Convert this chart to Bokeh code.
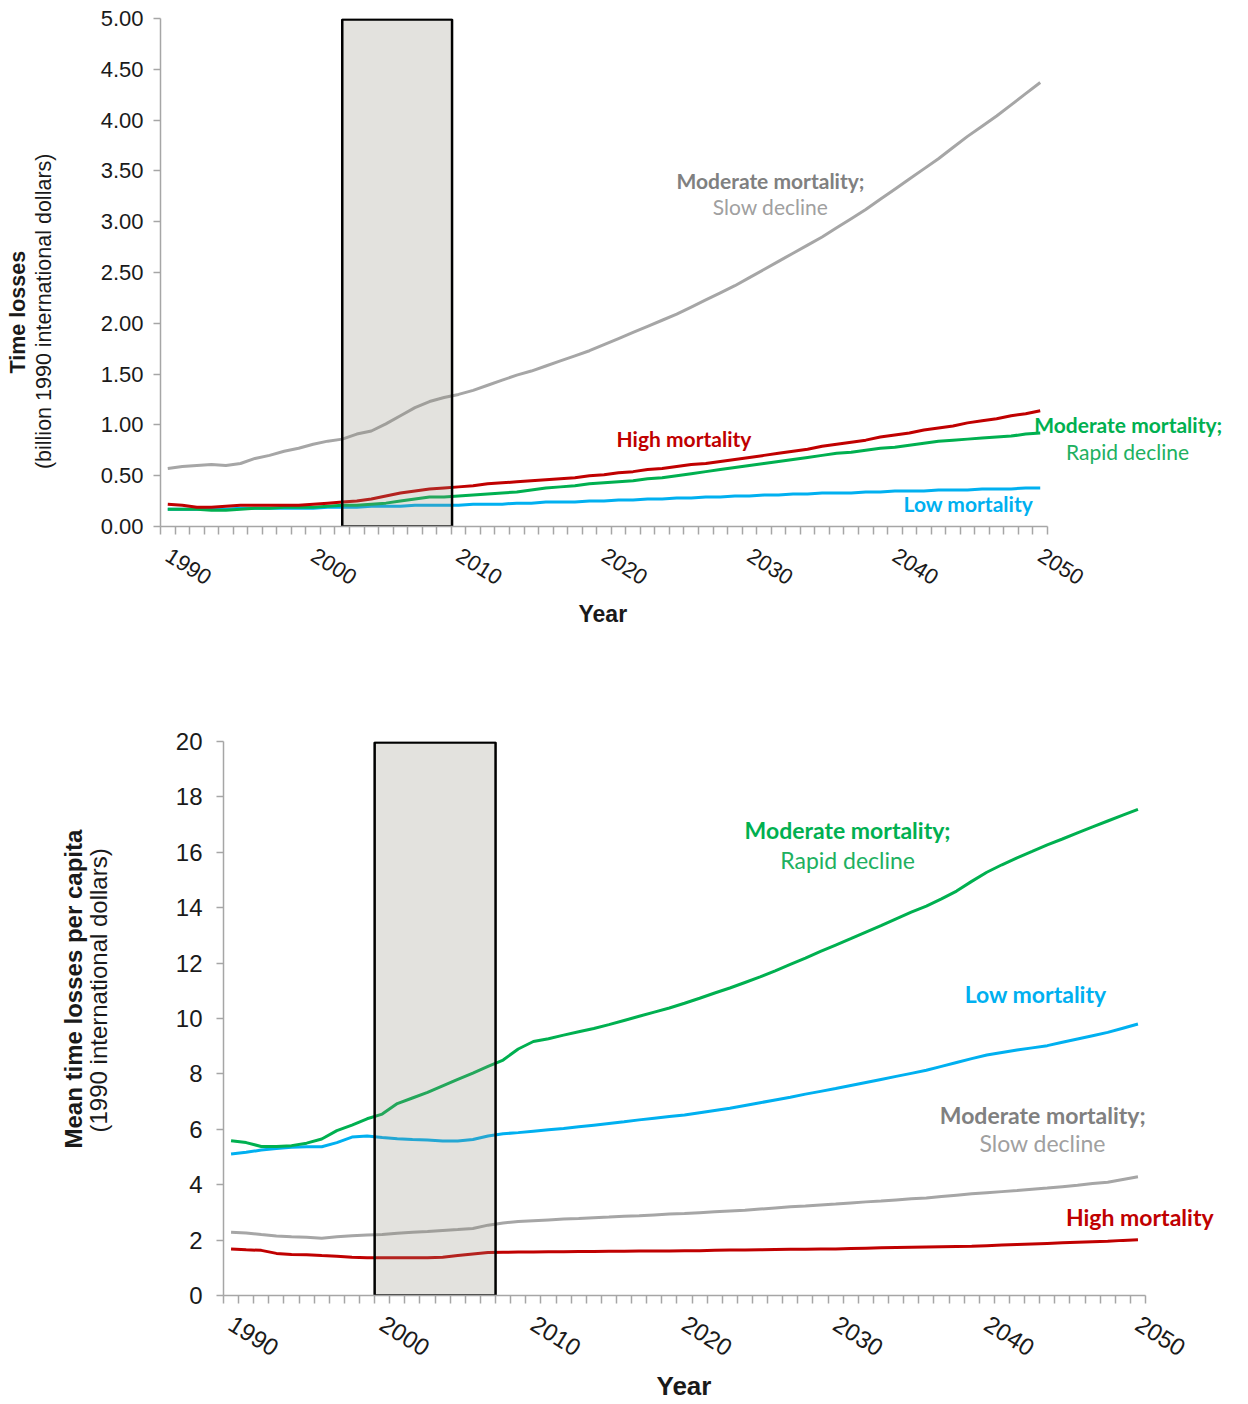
from bokeh.plotting import figure
from bokeh.models import Range1d, FixedTicker, Label, NumeralTickFormatter, Title
from bokeh.embed import file_html
from bokeh.resources import INLINE

years = list(range(1990, 2051))

# ---- Top panel: total time losses (billion 1990 international dollars)
top_slow = [0.57, 0.59, 0.60, 0.61, 0.60, 0.62, 0.67, 0.70, 0.74, 0.77,
            0.81, 0.84, 0.86, 0.91, 0.94, 1.01, 1.09, 1.17, 1.23, 1.27,
            1.30, 1.34, 1.39, 1.44, 1.49, 1.53, 1.58, 1.63, 1.68, 1.73,
            1.79, 1.85, 1.91, 1.97, 2.03, 2.09, 2.16, 2.23, 2.30, 2.37,
            2.45, 2.53, 2.61, 2.69, 2.77, 2.85, 2.94, 3.03, 3.12, 3.22,
            3.32, 3.42, 3.52, 3.62, 3.73, 3.84, 3.94, 4.04, 4.15, 4.26, 4.37]
top_high = [0.22, 0.21, 0.19, 0.19, 0.20, 0.21, 0.21, 0.21, 0.21, 0.21,
            0.22, 0.23, 0.24, 0.25, 0.27, 0.30, 0.33, 0.35, 0.37, 0.38,
            0.39, 0.40, 0.42, 0.43, 0.44, 0.45, 0.46, 0.47, 0.48, 0.50,
            0.51, 0.53, 0.54, 0.56, 0.57, 0.59, 0.61, 0.62, 0.64, 0.66,
            0.68, 0.70, 0.72, 0.74, 0.76, 0.79, 0.81, 0.83, 0.85, 0.88,
            0.90, 0.92, 0.95, 0.97, 0.99, 1.02, 1.04, 1.06, 1.09, 1.11, 1.14]
top_rapid = [0.17, 0.17, 0.17, 0.16, 0.16, 0.17, 0.18, 0.18, 0.19, 0.19,
             0.19, 0.20, 0.21, 0.21, 0.22, 0.23, 0.25, 0.27, 0.29, 0.29,
             0.30, 0.31, 0.32, 0.33, 0.34, 0.36, 0.38, 0.39, 0.40, 0.42,
             0.43, 0.44, 0.45, 0.47, 0.48, 0.50, 0.52, 0.54, 0.56, 0.58,
             0.60, 0.62, 0.64, 0.66, 0.68, 0.70, 0.72, 0.73, 0.75, 0.77,
             0.78, 0.80, 0.82, 0.84, 0.85, 0.86, 0.87, 0.88, 0.89, 0.91, 0.92]
top_low = [0.17, 0.17, 0.17, 0.17, 0.17, 0.18, 0.18, 0.18, 0.18, 0.18,
           0.18, 0.19, 0.19, 0.19, 0.20, 0.20, 0.20, 0.21, 0.21, 0.21,
           0.21, 0.22, 0.22, 0.22, 0.23, 0.23, 0.24, 0.24, 0.24, 0.25,
           0.25, 0.26, 0.26, 0.27, 0.27, 0.28, 0.28, 0.29, 0.29, 0.30,
           0.30, 0.31, 0.31, 0.32, 0.32, 0.33, 0.33, 0.33, 0.34, 0.34,
           0.35, 0.35, 0.35, 0.36, 0.36, 0.36, 0.37, 0.37, 0.37, 0.38, 0.38]
top_shade = [2002.0, 2009.55]
top_yticks = [0, 0.5, 1.0, 1.5, 2.0, 2.5, 3.0, 3.5, 4.0, 4.5, 5.0]

# ---- Bottom panel: mean time losses per capita (1990 international dollars)
bot_rapid = [5.59, 5.52, 5.38, 5.38, 5.41, 5.50, 5.65, 5.95, 6.15, 6.38,
             6.55, 6.93, 7.13, 7.33, 7.57, 7.80, 8.03, 8.27, 8.50, 8.90,
             9.17, 9.27, 9.40, 9.52, 9.64, 9.78, 9.93, 10.08, 10.23, 10.38,
             10.55, 10.73, 10.92, 11.10, 11.30, 11.50, 11.72, 11.95, 12.18, 12.42,
             12.65, 12.88, 13.12, 13.35, 13.60, 13.84, 14.06, 14.32, 14.60, 14.95,
             15.28, 15.55, 15.80, 16.03, 16.27, 16.48, 16.70, 16.92, 17.13, 17.34, 17.55]
bot_low = [5.11, 5.17, 5.25, 5.31, 5.35, 5.37, 5.37, 5.52, 5.72, 5.76,
           5.70, 5.66, 5.63, 5.61, 5.58, 5.58, 5.63, 5.76, 5.84, 5.88,
           5.93, 5.98, 6.03, 6.09, 6.15, 6.21, 6.27, 6.34, 6.40, 6.46,
           6.52, 6.60, 6.68, 6.76, 6.86, 6.96, 7.06, 7.16, 7.27, 7.37,
           7.47, 7.58, 7.69, 7.80, 7.91, 8.02, 8.13, 8.27, 8.41, 8.55,
           8.68, 8.77, 8.86, 8.94, 9.02, 9.14, 9.26, 9.38, 9.50, 9.65, 9.80]
bot_slow = [2.28, 2.26, 2.20, 2.15, 2.12, 2.10, 2.07, 2.12, 2.16, 2.18,
            2.20, 2.25, 2.28, 2.31, 2.35, 2.38, 2.42, 2.54, 2.62, 2.67,
            2.70, 2.73, 2.76, 2.78, 2.81, 2.83, 2.86, 2.88, 2.91, 2.94,
            2.96, 2.99, 3.02, 3.05, 3.08, 3.12, 3.16, 3.20, 3.23, 3.27,
            3.30, 3.34, 3.38, 3.41, 3.45, 3.49, 3.52, 3.57, 3.62, 3.67,
            3.71, 3.75, 3.79, 3.84, 3.88, 3.93, 3.98, 4.04, 4.09, 4.19, 4.29]
bot_high = [1.68, 1.65, 1.63, 1.52, 1.48, 1.47, 1.44, 1.42, 1.38, 1.36,
            1.36, 1.36, 1.36, 1.36, 1.38, 1.44, 1.50, 1.55, 1.56, 1.57,
            1.57, 1.58, 1.58, 1.59, 1.59, 1.60, 1.60, 1.61, 1.61, 1.61,
            1.62, 1.62, 1.63, 1.64, 1.64, 1.65, 1.66, 1.67, 1.67, 1.68,
            1.68, 1.70, 1.71, 1.72, 1.73, 1.74, 1.75, 1.76, 1.77, 1.78,
            1.80, 1.82, 1.84, 1.86, 1.88, 1.90, 1.92, 1.94, 1.96, 1.99, 2.01]
bot_shade = [1999.5, 2007.5]
bot_yticks = [0, 2, 4, 6, 8, 10, 12, 14, 16, 18, 20]

x_labels = [1990, 2000, 2010, 2020, 2030, 2040, 2050]

GRAY, RED, GREEN, BLUE = "#a6a6a6", "#c00000", "#00b050", "#00b0f0"
AXIS = "#a6a6a6"
AX_FONT = "Liberation Sans"
LAB_FONT = "Lato"
TXT = "#1a1a1a"
NBSP = "\u00a0"


def base_fig(width, height, x_end, ymax, yticks, mb):
    p = figure(width=width, height=height, output_backend="svg", toolbar_location=None,
               x_range=Range1d(1989.5, x_end), y_range=Range1d(0, ymax),
               min_border_left=mb[0], min_border_right=mb[1],
               min_border_top=mb[2], min_border_bottom=mb[3])
    p.outline_line_color = None
    p.grid.visible = False
    p.background_fill_color = "white"
    p.border_fill_color = "white"
    p.xaxis.ticker = FixedTicker(ticks=x_labels,
                                 minor_ticks=[1989.5 + i for i in range(62)])
    p.xaxis.bounds = (1989.5, 2050.5)
    p.yaxis.ticker = FixedTicker(ticks=yticks, minor_ticks=[])
    for ax in (p.xaxis, p.yaxis):
        ax.axis_line_color = AXIS
        ax.axis_line_width = 1.5
        ax.major_tick_line_color = AXIS
        ax.minor_tick_line_color = AXIS
        ax.major_tick_line_width = 1.5
        ax.minor_tick_line_width = 1.5
        ax.major_label_text_font = AX_FONT
        ax.major_label_text_color = TXT
    p.xaxis.major_tick_out = 0
    p.xaxis.major_tick_in = 0
    p.xaxis.minor_tick_out = 8
    p.xaxis.minor_tick_in = 0
    p.xaxis.major_label_orientation = -0.56
    p.yaxis.major_tick_out = 7
    p.yaxis.major_tick_in = 0
    return p


def lab(p, x, y, text, size, color, bold=False):
    p.add_layout(Label(x=x, y=y, text=text, text_font=LAB_FONT,
                       text_font_size=f"{size}px", text_color=color,
                       text_font_style="bold" if bold else "normal",
                       text_align="center", text_baseline="middle"))


def side_title(p, side, text, size, bold, offset, standoff):
    p.add_layout(Title(text=text, align="left", offset=offset, standoff=standoff,
                       text_font=AX_FONT, text_font_size=f"{size}px", text_color=TXT,
                       text_font_style="bold" if bold else "normal"), side)


def draw(p, series, shade, ymax):
    for vals, col in series:
        p.line(years, vals, line_color=col, line_width=3)
    p.quad(left=[shade[0]], right=[shade[1]], bottom=[0], top=[ymax * 0.998],
           fill_color="#8f8b7b", fill_alpha=0.25, line_color="black", line_width=2.5)


# ---------------- top figure (frame x 160..1244, y 18..526)
p1 = base_fig(1248, 700, 1989.5 + 1084 / 14.541, 5, top_yticks, (160, 4, 18, 174))
p1.yaxis.formatter = NumeralTickFormatter(format="0.00")
p1.xaxis.major_label_text_font_size = "22px"
p1.yaxis.major_label_text_font_size = "22px"
p1.yaxis.major_label_standoff = 10
p1.xaxis.major_label_standoff = 19
# normal-weight line of the y title as the axis label (trailing spaces move it down)
p1.yaxis.axis_label = "(billion 1990 international dollars)" + NBSP * 13
p1.yaxis.axis_label_text_font = AX_FONT
p1.yaxis.axis_label_text_font_size = "21.5px"
p1.yaxis.axis_label_text_font_style = "normal"
p1.yaxis.axis_label_text_color = TXT
p1.yaxis.axis_label_standoff = 42
draw(p1, [(top_slow, GRAY), (top_low, BLUE), (top_rapid, GREEN), (top_high, RED)], top_shade, 5)

lab(p1, 2031.45, 3.405, "Moderate mortality;", 21, "#808080", True)
lab(p1, 2031.45, 3.15, "Slow decline", 21, "#a0a0a0")
lab(p1, 2025.5, 0.866, "High mortality", 21, RED, True)
lab(p1, 2056.05, 1.0, "Moderate mortality;", 21, GREEN, True)
lab(p1, 2056.0, 0.738, "Rapid decline", 21, "#20b060")
lab(p1, 2045.06, 0.226, "Low mortality", 21, BLUE, True)
side_title(p1, "below", "Year", 23, True, 418, 6)
side_title(p1, "left", "Time losses", 21.5, True, 153, -2)

# ---------------- bottom figure (frame x 223..1244, y 741..1295)
p2 = base_fig(1248, 704, 1989.5 + 1021 / 15.115, 20, bot_yticks, (223, 4, 41, 109))
p2.xaxis.major_label_text_font_size = "24px"
p2.yaxis.major_label_text_font_size = "24px"
p2.yaxis.major_label_standoff = 14
p2.xaxis.major_label_standoff = 18
draw(p2, [(bot_slow, GRAY), (bot_high, RED), (bot_low, BLUE), (bot_rapid, GREEN)], bot_shade, 20)

lab(p2, 2030.79, 16.79, "Moderate mortality;", 23, GREEN, True)
lab(p2, 2030.79, 15.74, "Rapid decline", 23, "#20b060")
lab(p2, 2043.23, 10.90, "Low mortality", 23, BLUE, True)
lab(p2, 2043.70, 6.53, "Moderate mortality;", 23, "#808080", True)
lab(p2, 2043.70, 5.49, "Slow decline", 23, "#a0a0a0")
lab(p2, 2050.12, 2.85, "High mortality", 23, RED, True)
side_title(p2, "below", "Year", 26, True, 433, 2)
side_title(p2, "left", "(1990 international dollars)", 24, False, 163, 121)
side_title(p2, "left", "Mean time losses per capita", 24, True, 147, -129)

open("out.html", "w").write(file_html([p1, p2], INLINE))
